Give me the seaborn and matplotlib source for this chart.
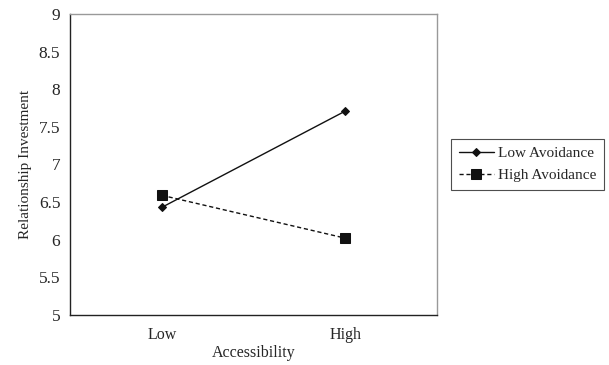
import pandas as pd
import numpy as np
import seaborn as sns
import matplotlib.pyplot as plt

# data
accessibility = ["Low", "High"]
low_avoidance = [6.43, 7.71]
high_avoidance = [6.59, 6.02]

x_pos = [0.5, 1.5]
df = pd.DataFrame({
    "x": x_pos * 2,
    "value": low_avoidance + high_avoidance,
    "group": ["Low Avoidance"] * 2 + ["High Avoidance"] * 2,
})

sns.set_style("white")
plt.rcParams["font.family"] = ["Liberation Serif", "DejaVu Serif"]

fig = plt.figure(figsize=(6.09, 3.65), dpi=100)
ax = fig.add_axes([0.115, 0.137, 0.603, 0.825])

sns.lineplot(data=df, x="x", y="value", hue="group", style="group",
             palette={"Low Avoidance": "#111111", "High Avoidance": "#111111"},
             markers={"Low Avoidance": "D", "High Avoidance": "s"},
             dashes={"Low Avoidance": "", "High Avoidance": (3, 2)},
             markersize=5, linewidth=1, markeredgecolor="#111111",
             ax=ax, legend=True)
# square markers are bigger than the diamonds
for line in ax.get_lines():
    if line.get_marker() == "s":
        line.set_markersize(7)
    elif line.get_marker() == "D":
        line.set_markersize(4.5)

ax.set_xlim(0, 2)
ax.set_ylim(5, 9)
ax.set_yticks(np.arange(5, 9.01, 0.5))
ax.set_yticklabels(["5", "5.5", "6", "6.5", "7", "7.5", "8", "8.5", "9"])
ax.set_xticks([0, 1, 2])
ax.set_xticklabels(["", "", ""])
ax.set_xticks(x_pos, minor=True)
ax.set_xticklabels(accessibility, minor=True)
ax.tick_params(axis="x", which="minor", length=0, pad=9, labelsize=11.5)
ax.tick_params(axis="x", which="major", length=5, direction="out", width=0.8, color="#222222")
ax.tick_params(axis="y", length=5, direction="out", width=0.8, color="#222222", labelsize=12.5, pad=2)

ax.spines["left"].set_color("#222222")
ax.spines["bottom"].set_color("#222222")
ax.spines["top"].set_color("#999999")
ax.spines["right"].set_color("#999999")
for s in ax.spines.values():
    s.set_linewidth(1)

ax.set_xlabel("Accessibility", fontsize=11.5)
ax.xaxis.set_label_coords(0.5, -0.1)
ax.set_ylabel("Relationship Investment", fontsize=11, labelpad=5)

leg = ax.legend(loc="center left", bbox_to_anchor=(1.038, 0.5), frameon=True,
                fancybox=False, edgecolor="#222222", fontsize=11,
                handlelength=2.3, borderpad=0.5, labelspacing=0.55,
                handletextpad=0.25, borderaxespad=0)
leg.get_frame().set_linewidth(0.8)
for h in leg.legend_handles:
    h.set_linewidth(1)

fig.savefig("out.png", dpi=100)
